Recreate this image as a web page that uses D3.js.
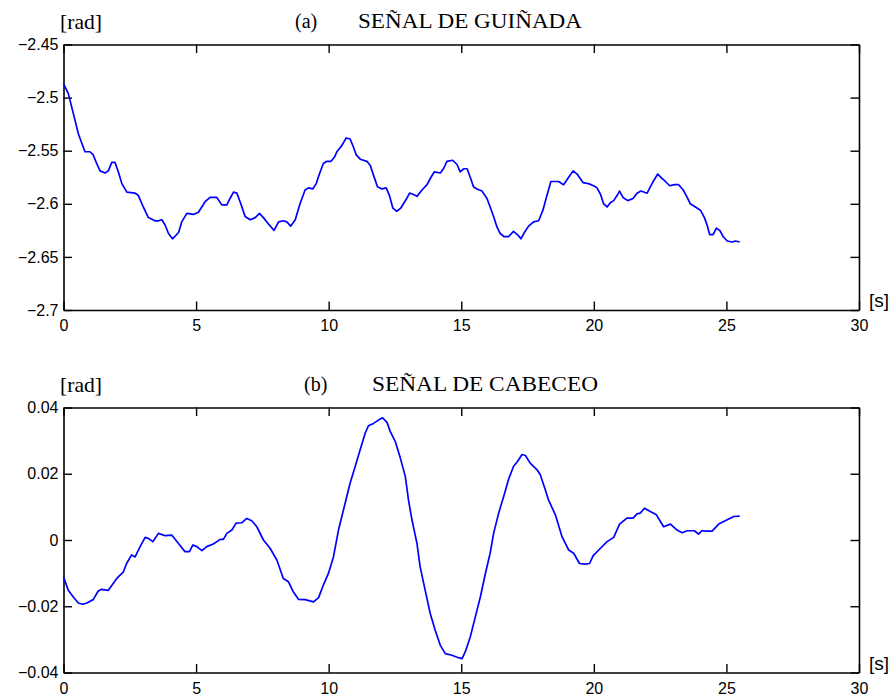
<!DOCTYPE html>
<html><head><meta charset="utf-8">
<script src="https://cdn.jsdelivr.net/npm/d3@7"></script>
<style>
html,body{margin:0;padding:0;background:#fff;}
svg{display:block;}
.tick text{font-family:"Liberation Sans",Arial,sans-serif;font-size:16px;fill:#000;}
</style></head>
<body>
<svg id="chart" width="893" height="698"></svg>
<script>
// ---- Data ----
const xTicks = [0, 5, 10, 15, 20, 25, 30];
const yawTicks = [-2.7, -2.65, -2.6, -2.55, -2.5, -2.45];
const yawTickLabels = ["\u22122.7", "\u22122.65", "\u22122.6", "\u22122.55", "\u22122.5", "\u22122.45"];
const pitchTicks = [-0.04, -0.02, 0, 0.02, 0.04];
const pitchTickLabels = ["\u22120.04", "\u22120.02", "0", "0.02", "0.04"];

const yawTime = [0,0.18,0.31,0.43,0.56,0.69,0.81,1.0,1.12,1.25,1.38,1.57,1.69,1.82,1.94,2.07,2.2,2.39,2.7,2.82,3.01,3.2,3.45,3.58,3.71,3.83,3.96,4.11,4.34,4.46,4.65,4.9,5.09,5.34,5.53,5.78,5.97,6.16,6.28,6.41,6.54,6.66,6.85,7.04,7.23,7.39,7.54,7.73,7.94,8.11,8.29,8.42,8.57,8.74,8.92,9.11,9.24,9.4,9.53,9.65,9.8,9.93,10.09,10.22,10.31,10.5,10.66,10.81,10.94,11.04,11.19,11.44,11.57,11.69,11.84,12.01,12.17,12.29,12.42,12.57,12.72,12.92,13.05,13.18,13.33,13.52,13.71,13.86,13.98,14.21,14.33,14.46,14.68,14.84,14.96,15.09,15.22,15.34,15.46,15.59,15.78,15.97,16.09,16.22,16.35,16.47,16.62,16.78,16.97,17.16,17.25,17.38,17.54,17.73,17.92,18.08,18.21,18.38,18.67,18.86,19.05,19.22,19.37,19.59,19.8,19.99,20.12,20.25,20.37,20.5,20.62,20.75,20.88,20.97,21.1,21.28,21.48,21.63,21.78,22.01,22.13,22.26,22.41,22.57,22.7,22.86,23.04,23.2,23.37,23.52,23.64,23.83,24.02,24.17,24.27,24.37,24.5,24.62,24.75,24.88,25.03,25.22,25.34,25.5];
const yawValue = [-2.487,-2.496,-2.509,-2.521,-2.534,-2.543,-2.551,-2.551,-2.554,-2.562,-2.569,-2.571,-2.569,-2.561,-2.561,-2.570,-2.581,-2.589,-2.590,-2.592,-2.603,-2.613,-2.616,-2.616,-2.615,-2.620,-2.628,-2.633,-2.627,-2.617,-2.609,-2.610,-2.608,-2.598,-2.594,-2.594,-2.601,-2.601,-2.595,-2.589,-2.590,-2.598,-2.612,-2.615,-2.613,-2.609,-2.613,-2.619,-2.625,-2.617,-2.616,-2.617,-2.621,-2.615,-2.600,-2.587,-2.585,-2.586,-2.581,-2.572,-2.562,-2.560,-2.560,-2.556,-2.551,-2.545,-2.538,-2.539,-2.547,-2.554,-2.558,-2.560,-2.564,-2.573,-2.584,-2.586,-2.585,-2.592,-2.604,-2.607,-2.604,-2.596,-2.590,-2.591,-2.593,-2.587,-2.582,-2.575,-2.570,-2.571,-2.567,-2.560,-2.559,-2.563,-2.570,-2.567,-2.567,-2.575,-2.584,-2.586,-2.588,-2.595,-2.603,-2.612,-2.622,-2.628,-2.631,-2.631,-2.626,-2.630,-2.633,-2.627,-2.621,-2.617,-2.616,-2.606,-2.594,-2.579,-2.579,-2.582,-2.575,-2.569,-2.572,-2.580,-2.581,-2.583,-2.585,-2.591,-2.600,-2.603,-2.599,-2.597,-2.592,-2.588,-2.594,-2.597,-2.595,-2.590,-2.588,-2.590,-2.584,-2.578,-2.572,-2.576,-2.579,-2.583,-2.582,-2.582,-2.587,-2.594,-2.600,-2.603,-2.606,-2.613,-2.620,-2.629,-2.629,-2.623,-2.625,-2.631,-2.635,-2.636,-2.635,-2.636];

const pitchTime = [0,0.18,0.37,0.56,0.72,0.88,1.12,1.31,1.44,1.69,2.01,2.26,2.38,2.57,2.7,2.89,3.08,3.2,3.37,3.58,3.83,4.08,4.33,4.58,4.75,4.88,5.03,5.22,5.4,5.65,5.91,6.03,6.16,6.35,6.51,6.72,6.91,7.1,7.29,7.54,7.79,8.05,8.29,8.48,8.67,8.86,9.11,9.43,9.62,9.8,9.99,10.18,10.37,10.62,10.81,11.0,11.19,11.38,11.5,11.69,11.88,12.03,12.2,12.32,12.51,12.7,12.89,13.01,13.14,13.33,13.45,13.64,13.83,14.02,14.21,14.4,14.65,14.84,15.03,15.15,15.34,15.53,15.72,15.91,16.09,16.22,16.41,16.6,16.78,16.97,17.12,17.29,17.42,17.6,17.86,17.98,18.17,18.29,18.55,18.8,19.05,19.24,19.46,19.68,19.84,19.97,20.25,20.5,20.75,20.97,21.25,21.48,21.63,21.75,21.91,22.13,22.36,22.63,22.89,23.14,23.33,23.52,23.79,23.95,24.08,24.27,24.46,24.71,25.03,25.28,25.5];
const pitchValue = [-0.0111,-0.0152,-0.0172,-0.0190,-0.0194,-0.0190,-0.0180,-0.0154,-0.0149,-0.0152,-0.0116,-0.0096,-0.0071,-0.0045,-0.0051,-0.0020,0.0008,0.0005,-0.0005,0.0020,0.0013,0.0015,-0.0010,-0.0035,-0.0035,-0.0015,-0.0020,-0.0032,-0.0020,-0.0012,0.0002,0.0002,0.0020,0.0030,0.0051,0.0052,0.0065,0.0058,0.0040,0.0000,-0.0025,-0.0061,-0.0116,-0.0126,-0.0157,-0.0179,-0.0180,-0.0187,-0.0174,-0.0136,-0.0101,-0.0051,0.0030,0.0111,0.0172,0.0222,0.0273,0.0323,0.0345,0.0352,0.0362,0.0369,0.0355,0.0328,0.0298,0.0248,0.0192,0.0121,0.0061,-0.0010,-0.0081,-0.0152,-0.0222,-0.0273,-0.0318,-0.0343,-0.0348,-0.0354,-0.0358,-0.0338,-0.0293,-0.0232,-0.0172,-0.0101,-0.0040,0.0020,0.0081,0.0131,0.0182,0.0222,0.0237,0.0258,0.0255,0.0232,0.0212,0.0197,0.0152,0.0121,0.0076,0.0010,-0.0030,-0.0040,-0.0071,-0.0073,-0.0071,-0.0048,-0.0025,-0.0005,0.0008,0.0048,0.0066,0.0066,0.0079,0.0081,0.0096,0.0086,0.0076,0.0040,0.0048,0.0030,0.0022,0.0028,0.0028,0.0018,0.0028,0.0027,0.0027,0.0048,0.0061,0.0071,0.0072];

// ---- Drawing ----
const svg = d3.select("#chart");
const left = 63.5, right = 859;
const x = d3.scaleLinear().domain([0, 30]).range([left, right]);

function panel(cfg) {
  const y = d3.scaleLinear().domain(cfg.domain).range([cfg.bottom, cfg.top]);
  const g = svg.append("g");
  const tick = 8.5;
  g.append("g").attr("transform", `translate(0,${cfg.bottom})`)
    .call(d3.axisBottom(x).tickValues(xTicks).tickFormat(d3.format("d"))
      .tickSizeInner(-tick).tickSizeOuter(0).tickPadding(10));
  g.append("g").attr("transform", `translate(0,${cfg.top})`)
    .call(d3.axisTop(x).tickValues(xTicks).tickFormat("")
      .tickSizeInner(-tick).tickSizeOuter(0));
  g.append("g").attr("transform", `translate(${left},0)`)
    .call(d3.axisLeft(y).tickValues(cfg.ticks).tickFormat((d, i) => cfg.labels[i])
      .tickSizeInner(-tick).tickSizeOuter(0).tickPadding(5));
  g.append("g").attr("transform", `translate(${right},0)`)
    .call(d3.axisRight(y).tickValues(cfg.ticks).tickFormat("")
      .tickSizeInner(-tick).tickSizeOuter(0));
  g.selectAll(".domain").attr("stroke", "#000").attr("stroke-width", 1.6);
  g.selectAll(".tick line").attr("stroke", "#000").attr("stroke-width", 1.4);

  const data = cfg.t.map((t, i) => [t, cfg.v[i]]);
  g.append("path").datum(data)
    .attr("fill", "none").attr("stroke", "#0000ff").attr("stroke-width", 1.7)
    .attr("stroke-linejoin", "round")
    .attr("d", d3.line().x(d => x(d[0])).y(d => y(d[1])));

  const serif = '"Liberation Serif","Times New Roman",serif';
  g.append("text").attr("x", 60).attr("y", cfg.top - 16)
    .attr("font-family", serif).attr("font-size", 21)
    .attr("textLength", 42).attr("lengthAdjust", "spacingAndGlyphs").text("[rad]");
  g.append("text").attr("x", cfg.letterX).attr("y", cfg.top - 17)
    .attr("font-family", serif).attr("font-size", 20).text(cfg.letter);
  g.append("text").attr("x", cfg.titleX).attr("y", cfg.top - 17)
    .attr("font-family", serif).attr("font-size", 20)
    .attr("textLength", cfg.titleW).attr("lengthAdjust", "spacingAndGlyphs")
    .text(cfg.title);
  g.append("text").attr("x", 869).attr("y", cfg.bottom - 3)
    .attr("font-family", '"Liberation Sans",Arial,sans-serif').attr("font-size", 19)
    .attr("fill", "#000").text("[s]");
}

panel({ top: 44.5, bottom: 310, domain: [-2.7, -2.45], ticks: yawTicks, labels: yawTickLabels,
  t: yawTime, v: yawValue, letter: "(a)", letterX: 295, title: "SEÑAL DE GUIÑADA", titleX: 358, titleW: 224 });
panel({ top: 407.5, bottom: 672.5, domain: [-0.04, 0.04], ticks: pitchTicks, labels: pitchTickLabels,
  t: pitchTime, v: pitchValue, letter: "(b)", letterX: 304, title: "SEÑAL DE CABECEO", titleX: 372, titleW: 226 });
</script>
</body></html>
